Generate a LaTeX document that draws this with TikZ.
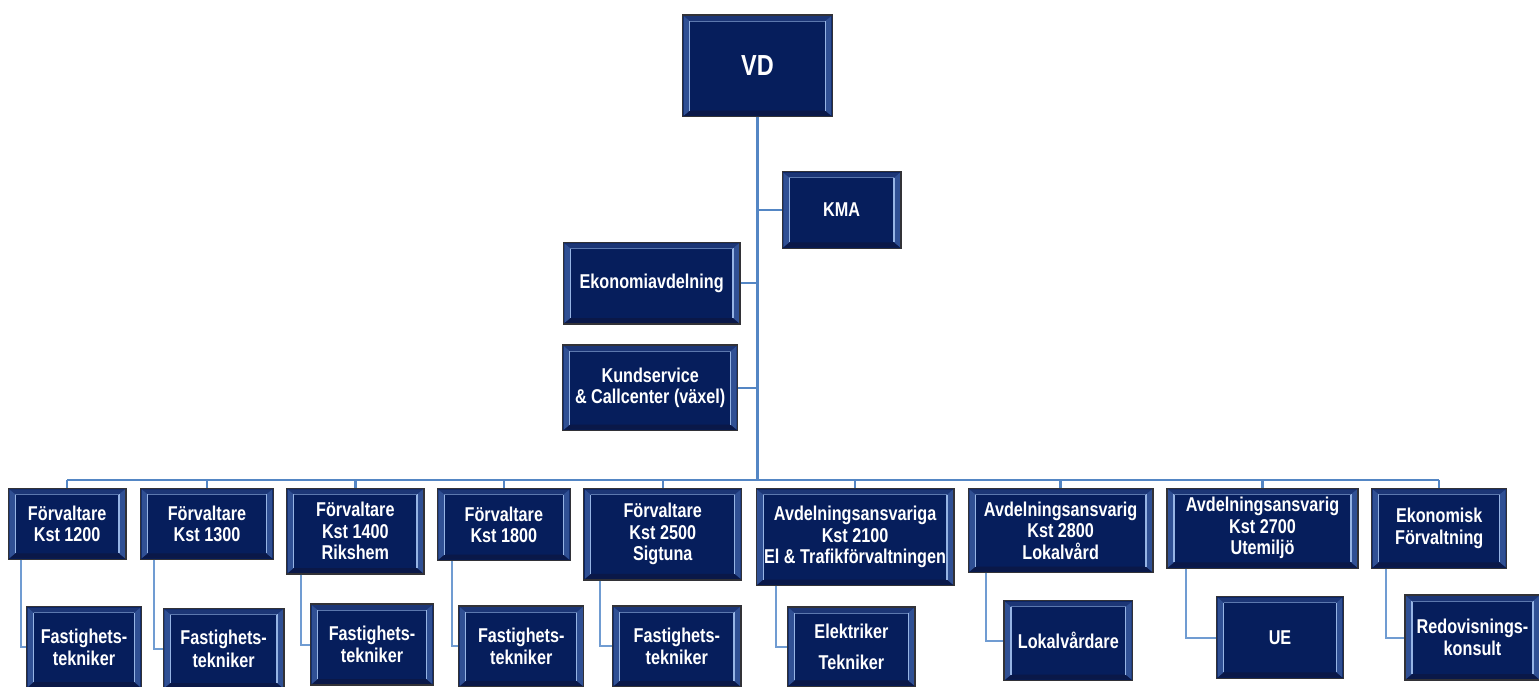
\documentclass[tikz,border=0pt]{standalone}
\usepackage{fontspec}
\newfontfamily\boxfont[FakeStretch=0.81]{Liberation Sans}
\usetikzlibrary{calc}
\definecolor{navy}{RGB}{6,30,92}
\definecolor{boxborder}{RGB}{50,50,55}
\definecolor{bevelside}{RGB}{48,80,148}
\definecolor{beveltop}{RGB}{28,54,118}
\definecolor{bevelbot}{RGB}{10,24,72}
\definecolor{hilite}{RGB}{150,180,228}
\definecolor{conn}{RGB}{84,134,196}
\definecolor{connlight}{RGB}{112,156,210}
\tikzset{
  orgbox/.style={draw=boxborder, line width=1.3pt, fill=navy, text=white,
    inner sep=0pt, align=center,
    font=\boxfont\bfseries\fontsize{20}{21.5}\selectfont,
    path picture={
      \coordinate (ppnw) at (path picture bounding box.north west);
      \coordinate (ppse) at (path picture bounding box.south east);
      \coordinate (ppsw) at (ppnw|-ppse);
      \coordinate (ppne) at (ppse|-ppnw);
      \fill[beveltop] ($(ppnw)+(1pt,-1pt)$) -- ($(ppne)+(-1pt,-1pt)$) -- ($(ppne)+(-7pt,-6pt)$) -- ($(ppnw)+(7pt,-6pt)$) -- cycle;
      \fill[bevelbot] ($(ppsw)+(1pt,1pt)$) -- ($(ppse)+(-1pt,1pt)$) -- ($(ppse)+(-7pt,6pt)$) -- ($(ppsw)+(7pt,6pt)$) -- cycle;
      \fill[bevelside] ($(ppnw)+(1pt,-1pt)$) -- ($(ppnw)+(7pt,-6pt)$) -- ($(ppsw)+(7pt,6pt)$) -- ($(ppsw)+(1pt,1pt)$) -- cycle;
      \fill[bevelside] ($(ppne)+(-1pt,-1pt)$) -- ($(ppne)+(-7pt,-6pt)$) -- ($(ppse)+(-7pt,6pt)$) -- ($(ppse)+(-1pt,1pt)$) -- cycle;
      \draw[hilite, line width=1.1pt] ($(ppnw)+(7pt,-6pt)$) -- ($(ppsw)+(7pt,6pt)$);
      \draw[hilite, line width=1.1pt] ($(ppne)+(-7pt,-6pt)$) -- ($(ppse)+(-7pt,6pt)$);
      \draw[hilite!60!navy, line width=0.6pt] ($(ppnw)+(7pt,-6pt)$) -- ($(ppne)+(-7pt,-6pt)$);
    }},
  trunk/.style={conn, line width=3pt},
  branch/.style={conn, line width=2.4pt},
  sub/.style={connlight, line width=2pt},
}
\begin{document}
\begin{tikzpicture}[x=1pt, y=-1pt]
\fill[white] (0,0) rectangle (1539,687);
\useasboundingbox (0,0) rectangle (1539,687);

% top
\node[orgbox, minimum width=149.6pt, minimum height=101.7pt, font=\boxfont\bfseries\fontsize{29}{32}\selectfont] (vd) at (757.5,65.85) {VD};
\node[orgbox, minimum width=118.7pt, minimum height=76.6pt] (kma) at (841.65,210) {KMA};
\node[orgbox, minimum width=176.7pt, minimum height=81.7pt] (eko) at (651.65,283.15) {Ekonomiavdelning};
\node[orgbox, minimum width=175pt, minimum height=85.7pt] (kund) at (650.2,387.85) {Kundservice\\\& Callcenter (växel)};

% parents
\node[orgbox, minimum width=117.7pt, minimum height=71pt] (p1) at (67.15,523.8) {Förvaltare\\Kst 1200};
\node[orgbox, minimum width=132.6pt, minimum height=71pt] (p2) at (207,523.8) {Förvaltare\\Kst 1300};
\node[orgbox, minimum width=137.3pt, minimum height=85.7pt] (p3) at (355.35,531.15) {Förvaltare\\Kst 1400\\Rikshem};
\node[orgbox, minimum width=132.9pt, minimum height=72pt] (p4) at (503.85,524.6) {Förvaltare\\Kst 1800};
\node[orgbox, minimum width=157.9pt, minimum height=91.3pt] (p5) at (662.75,534.25) {Förvaltare\\Kst 2500\\Sigtuna};
\node[orgbox, minimum width=197.8pt, minimum height=97pt] (p6) at (855.1,537.1) {Avdelningsansvariga\\Kst 2100\\El \& Trafikförvaltningen};
\node[orgbox, minimum width=184.7pt, minimum height=84.4pt] (p7) at (1060.65,530.5) {Avdelningsansvarig\\Kst 2800\\Lokalvård};
\node[orgbox, minimum width=191pt, minimum height=80pt] (p8) at (1262.5,528.3) {Avdelningsansvarig\\Kst 2700\\Utemiljö};
\node[orgbox, minimum width=135pt, minimum height=80pt] (p9) at (1439.2,528.3) {Ekonomisk\\Förvaltning};

% children
\node[orgbox, minimum width=114.6pt, minimum height=81.3pt] (c1) at (84,647.35) {Fastighets-\\[1pt]tekniker};
\node[orgbox, minimum width=120.7pt, minimum height=80.7pt] (c2) at (223.65,648.65) {Fastighets-\\[1pt]tekniker};
\node[orgbox, minimum width=122.6pt, minimum height=81pt] (c3) at (372,644.5) {Fastighets-\\[1pt]tekniker};
\node[orgbox, minimum width=125.1pt, minimum height=81pt] (c4) at (521.25,646.45) {Fastighets-\\[1pt]tekniker};
\node[orgbox, minimum width=128.4pt, minimum height=81pt] (c5) at (676.8,646.45) {Fastighets-\\[1pt]tekniker};
\node[orgbox, minimum width=127.4pt, minimum height=79.5pt] (c6) at (851.4,646.65) {Elektriker\\[10pt]Tekniker};
\node[orgbox, minimum width=128.7pt, minimum height=80pt] (c7) at (1068.35,640.7) {Lokalvårdare};
\node[orgbox, minimum width=126.6pt, minimum height=81.6pt] (c8) at (1280,637.5) {UE};
\node[orgbox, minimum width=135pt, minimum height=85pt] (c9) at (1472.5,637.5) {Redovisnings-\\[1pt]konsult};

% connectors
\coordinate (bus) at (757,480);
\draw[trunk] (vd.south) -- (vd.south |- bus);
\draw[branch] (kma.west) -- (kma.west -| vd.south);
\draw[branch] (eko.east) -- (eko.east -| vd.south);
\draw[branch] (kund.east) -- (kund.east -| vd.south);
\draw[branch] (p1.north |- bus) -- (p9.north |- bus);
\foreach \p in {p1,p2,p3,p4,p5,p6,p7,p8,p9}{
  \draw[branch] (\p.north |- bus) -- (\p.north);
}
\draw[sub] ([xshift=13.5pt]p1.south west) |- (c1.west);
\draw[sub] ([xshift=13.5pt]p2.south west) |- (c2.west);
\draw[sub] ([xshift=15pt]p3.south west) |- (c3.west);
\draw[sub] ([xshift=15.5pt]p4.south west) |- (c4.west);
\draw[sub] ([xshift=17pt]p5.south west) |- (c5.west);
\draw[sub] ([xshift=20pt]p6.south west) |- (c6.west);
\draw[sub] ([xshift=18.5pt]p7.south west) |- (c7.west);
\draw[sub] ([xshift=19.5pt]p8.south west) |- (c8.west);
\draw[sub] ([xshift=14.5pt]p9.south west) |- (c9.west);
\end{tikzpicture}
\end{document}
